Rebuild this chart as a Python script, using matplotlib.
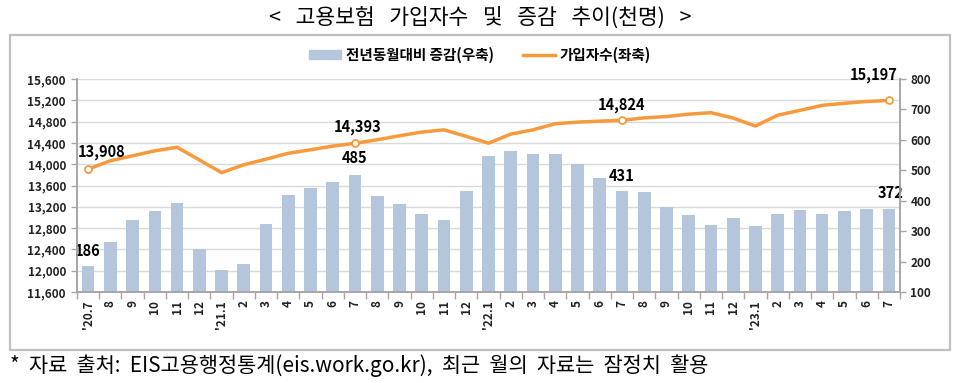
import numpy as np
import matplotlib
matplotlib.use('Agg')
import matplotlib.pyplot as plt
import matplotlib.patches as mpatches
import matplotlib.transforms as mtransforms
from matplotlib.lines import Line2D

plt.rcParams['font.family'] = ['Noto Sans CJK KR', 'DejaVu Sans']


#Part 1: Data (천명)
months = ["'20.7", '8', '9', '10', '11', '12',
          "'21.1", '2', '3', '4', '5', '6', '7', '8', '9', '10', '11', '12',
          "'22.1", '2', '3', '4', '5', '6', '7', '8', '9', '10', '11', '12',
          "'23.1", '2', '3', '4', '5', '6', '7']

members = [13908, 14064, 14158, 14252, 14318, 14080,
           13842, 13989, 14095, 14205, 14271, 14340, 14393, 14459, 14534, 14603, 14645, 14522,
           14395, 14565, 14645, 14760, 14790, 14808, 14824, 14870, 14895, 14940, 14967, 14866,
           14717, 14920, 15011, 15105, 15144, 15178, 15197]

change = [186, 264, 336, 367, 394, 240,
          172, 192, 325, 420, 441, 463, 485, 417, 390, 356, 336, 431,
          548, 565, 554, 554, 520, 476, 431, 427, 378, 353, 319, 343,
          316, 357, 371, 357, 367, 374, 372]

labeled = [0, 12, 24, 36]   # months that get value labels

left_ticks = list(range(11600, 15601, 400))
right_ticks = list(range(100, 801, 100))

title = '<   고용보험   가입자수   및   증감   추이(천명)   >'
note = '*  자료  출처:  EIS고용행정통계(eis.work.go.kr),  최근  월의  자료는  잠정치  활용'

BAR_COLOR = '#B4C6DC'
LINE_COLOR = '#F79A3B'
AXIS_GRAY = '#A6A6A6'
GRID_GRAY = '#D9D9D9'


#Part 2: Plotting
def make_plot():
    W, H = 960, 383
    fig = plt.figure(figsize=(W / 100, H / 100), dpi=100)
    fig.patch.set_facecolor('white')

    # outer grey chart frame
    fig.patches.append(mpatches.Rectangle((10 / W, 1 - 350 / H), 940 / W, 315 / H,
                                          transform=fig.transFigure, fill=False,
                                          edgecolor='#BFBFBF', linewidth=1.6))

    ax = fig.add_axes([77 / W, 1 - 292 / H, 823 / W, 213 / H])
    ax2 = ax.twinx()
    ax.set_zorder(ax2.get_zorder() + 1)
    ax.patch.set_visible(False)

    x = np.arange(len(months))

    # gridlines follow the left scale but sit behind the bars
    blend = mtransforms.blended_transform_factory(ax2.transAxes, ax.transData)
    for t in left_ticks:
        ax2.plot([0, 1], [t, t], transform=blend, color=GRID_GRAY, linewidth=1.0, zorder=0)

    ax2.bar(x, change, width=0.57, color=BAR_COLOR, zorder=2)
    ax.plot(x, members, color=LINE_COLOR, linewidth=2.5, zorder=3, solid_joinstyle='round')
    ax.plot(x[labeled], [members[i] for i in labeled], linestyle='none', marker='o',
            markersize=5, markerfacecolor='white', markeredgecolor=LINE_COLOR,
            markeredgewidth=1.3, zorder=4)

    ax.set_xlim(-0.5, len(months) - 0.5)
    ax.set_ylim(11600, 15600)
    ax2.set_ylim(100, 800)

    ax.set_yticks(left_ticks)
    ax.set_yticklabels(['{:,}'.format(t) for t in left_ticks])
    ax2.set_yticks(right_ticks)

    ax.set_xticks(x)
    ax.set_xticklabels(months, rotation=90, va='top', ha='center')
    ax.set_xticks(np.arange(-0.5, len(months), 1), minor=True)

    ax.tick_params(axis='x', which='major', length=0, pad=6, labelsize=8.5)
    ax.tick_params(axis='x', which='minor', length=5, color=AXIS_GRAY, width=1)
    ax.tick_params(axis='y', length=4.5, color=AXIS_GRAY, width=1, pad=3.5, labelsize=8.5)
    ax2.tick_params(axis='y', length=4.5, color=AXIS_GRAY, width=1, pad=3, labelsize=8.5)
    for lab in ax.get_xticklabels() + ax.get_yticklabels() + ax2.get_yticklabels():
        lab.set_fontweight('bold')
        lab.set_color('#222222')

    for a in (ax, ax2):
        a.spines['top'].set_visible(False)
        for s in ('left', 'right', 'bottom'):
            a.spines[s].set_color(AXIS_GRAY)
            a.spines[s].set_linewidth(1.2)

    # value labels
    line_offsets = {0: (10, 12), 12: (2, 12), 24: (0, 11), 36: (-11, 18)}
    for i in labeled:
        ax.annotate('{:,}'.format(members[i]), (x[i], members[i]),
                    xytext=line_offsets[i], textcoords='offset points',
                    ha='center', va='center', fontsize=10.5, fontweight='bold', zorder=5)
    bar_offsets = {0: (0, 11), 12: (0, 12), 24: (0, 11), 36: (1, 12)}
    for i in labeled:
        ax2.annotate('{:,}'.format(change[i]), (x[i], change[i]),
                     xytext=bar_offsets[i], textcoords='offset points',
                     ha='center', va='center', fontsize=10.5, fontweight='bold')

    # legend
    handles = [mpatches.Patch(color=BAR_COLOR),
               Line2D([0], [0], color=LINE_COLOR, linewidth=2.5)]
    fig.legend(handles, ['전년동월대비 증감(우축)', '가입자수(좌축)'],
               loc='center', bbox_to_anchor=(0.5, 1 - 55 / H), ncol=2, frameon=False,
               prop={'size': 10.5, 'weight': 'bold'}, handlelength=2.2, handleheight=0.6,
               columnspacing=2.0, handletextpad=0.3)

    fig.text(0.5, 1 - 18 / H, title, ha='center', va='center', fontsize=15.5)
    fig.text(10 / W, 1 - 366 / H, note, ha='left', va='center', fontsize=15)

    fig.savefig('out.png', dpi=100)


make_plot()
